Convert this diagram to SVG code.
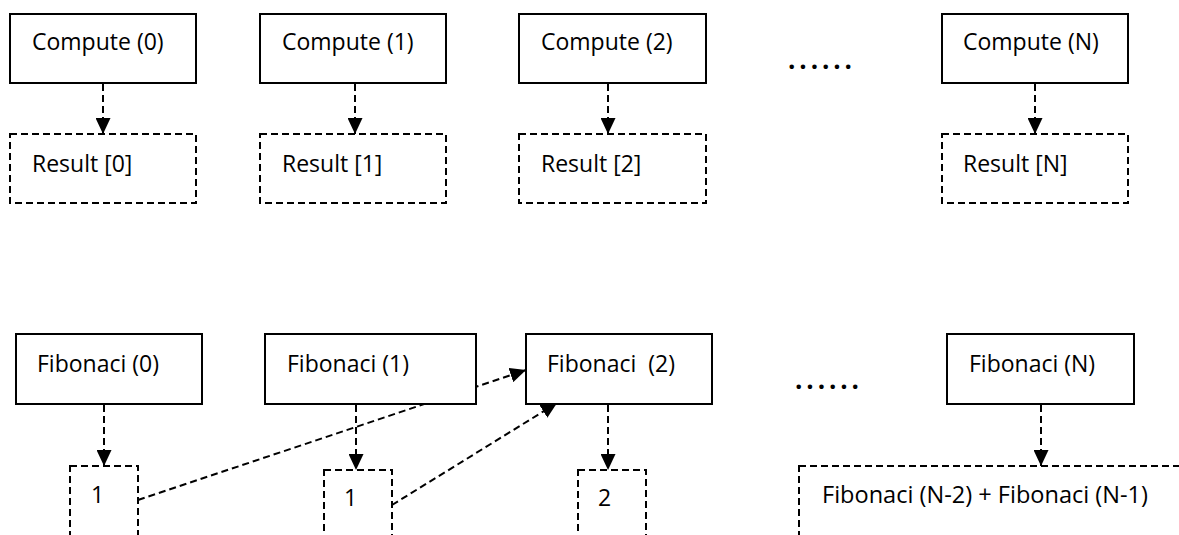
<svg xmlns="http://www.w3.org/2000/svg" width="1179" height="535" viewBox="0 0 1179 535">
<style>
.solid{fill:#fff;stroke:#000;stroke-width:2}
.dash{fill:none;stroke:#000;stroke-width:2;stroke-dasharray:7 4}
.conn{fill:none;stroke:#000;stroke-width:2;stroke-dasharray:7 4;marker-end:url(#ah)}
text{font-family:"Open Sans","Liberation Sans",sans-serif;font-size:23px;fill:#000}
.dots{font-weight:bold;font-size:26px}
</style>
<defs>
<marker id="ah" markerUnits="userSpaceOnUse" viewBox="0 0 16 15" markerWidth="16" markerHeight="15" refX="16" refY="7.5" orient="auto">
<path d="M0,0 L16,7.5 L0,15 z" fill="#000"/>
</marker>
</defs>
<rect width="1179" height="535" fill="#fff"/>
<g id="connectors">
<line class="conn" x1="103" y1="84" x2="103" y2="134"/>
<line class="conn" x1="355" y1="84" x2="355" y2="134"/>
<line class="conn" x1="608" y1="84" x2="608" y2="134"/>
<line class="conn" x1="1035" y1="84" x2="1035" y2="134"/>
<line class="conn" x1="104" y1="405" x2="104" y2="466"/>
<line class="conn" x1="356" y1="405" x2="356" y2="470"/>
<line class="conn" x1="608" y1="405" x2="608" y2="470"/>
<line class="conn" x1="1041" y1="405" x2="1041" y2="466"/>
<line class="conn" x1="138" y1="500" x2="526" y2="370"/>
<line class="conn" x1="392" y1="505" x2="557" y2="403"/>
</g>
<g id="compute0"><rect class="solid" x="10" y="14" width="186" height="69"/><text x="32" y="50">Compute (0)</text></g>
<g id="compute1"><rect class="solid" x="260" y="14" width="186" height="69"/><text x="282" y="50">Compute (1)</text></g>
<g id="compute2"><rect class="solid" x="519" y="14" width="187" height="69"/><text x="541" y="50">Compute (2)</text></g>
<g id="dots-top"><text class="dots" x="788" y="69" textLength="64" lengthAdjust="spacing">......</text></g>
<g id="computeN"><rect class="solid" x="942" y="14" width="186" height="69"/><text x="963" y="50">Compute (N)</text></g>
<g id="result0"><rect class="dash" x="10" y="134" width="186" height="69"/><text x="32" y="172">Result [0]</text></g>
<g id="result1"><rect class="dash" x="260" y="134" width="186" height="69"/><text x="282" y="172">Result [1]</text></g>
<g id="result2"><rect class="dash" x="519" y="134" width="187" height="69"/><text x="541" y="172">Result [2]</text></g>
<g id="resultN"><rect class="dash" x="942" y="134" width="186" height="69"/><text x="963" y="172">Result [N]</text></g>
<g id="fib0"><rect class="solid" x="16" y="334" width="186" height="70"/><text x="37" y="372">Fibonaci (0)</text></g>
<g id="fib1"><rect class="solid" x="265" y="334" width="211" height="70"/><text x="287" y="372">Fibonaci (1)</text></g>
<g id="fib2"><rect class="solid" x="526" y="334" width="186" height="70"/><text x="547" y="372">Fibonaci&#160; (2)</text></g>
<g id="dots-bottom"><text class="dots" x="795" y="389" textLength="64" lengthAdjust="spacing">......</text></g>
<g id="fibN"><rect class="solid" x="947" y="334" width="187" height="70"/><text x="969" y="372">Fibonaci (N)</text></g>
<g id="val0"><rect class="dash" x="70" y="466" width="68" height="100"/><text x="91" y="503">1</text></g>
<g id="val1"><rect class="dash" x="324" y="470" width="68" height="100"/><text x="344" y="506">1</text></g>
<g id="val2"><rect class="dash" x="578" y="470" width="68" height="100"/><text x="598" y="506">2</text></g>
<g id="valN"><rect class="dash" x="799" y="466" width="420" height="100"/><text x="822" y="503" textLength="326" lengthAdjust="spacingAndGlyphs">Fibonaci (N-2) + Fibonaci (N-1)</text></g>
</svg>
